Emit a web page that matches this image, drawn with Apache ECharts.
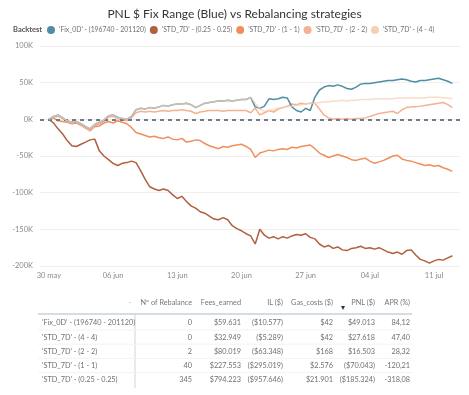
<!DOCTYPE html>
<html>
<head>
<meta charset="utf-8">
<script src="https://cdn.jsdelivr.net/npm/echarts@6/dist/echarts.min.js"></script>
<style>
html,body{margin:0;padding:0;background:#fff;}
#chart{width:469px;height:395px;}
</style>
</head>
<body>
<div id="chart"></div>
<script>
// ---------- DATA ----------
// x is measured in days since 30 May; one sample every half day
var stepDays = 0.5;

var seriesNames = [
  "'Fix_0D' - (196740 - 201120)",
  "'STD_7D' - (0.25 - 0.25)",
  "'STD_7D' - (1 - 1)",
  "'STD_7D' - (2 - 2)",
  "'STD_7D' - (4 - 4)"
];

// PNL in thousands of $
var fix0D = [0,4,6,2,-2,-4,-3,-6,-10,-13,-7,-4,-1,5,6,3,1,0,4,13,
  15,14,16,15,17,19,18,20,21,21,22,20,16,19,22,23,24,25,25,26,
  25,26,27,27,30,17,15,18,28,27,28,30,29,17,12,10,15,12,30,40,
  44,46,45,47,45,42,41,44,48,49,49,50,51,52,53,53,54,55,54,52,
  51,53,53,54,55,56,54,52,49];
var std025 = [0,-5,-13,-20,-29,-36,-37,-34,-31,-28,-27,-43,-50,-55,-60,-63,-60,-59,-57,-59,
  -70,-82,-92,-95,-97,-95,-97,-103,-108,-105,-112,-118,-121,-126,-128,-132,-136,-137,-134,-137,
  -145,-149,-152,-156,-159,-170,-150,-158,-162,-160,-163,-160,-162,-159,-157,-158,-156,-161,-163,-170,
  -174,-172,-176,-174,-178,-179,-176,-175,-173,-176,-175,-177,-175,-178,-181,-183,-181,-184,-179,-178,
  -185,-191,-193,-196,-193,-191,-192,-189,-186];
var std1 = [0,2,-2,-3,-4,-6,-5,-8,-12,-15,-10,-9,-5,-3,-5,-2,-4,-6,-11,-18,
  -20,-22,-24,-23,-25,-26,-24,-27,-28,-26,-31,-30,-28,-29,-33,-36,-38,-40,-37,-38,
  -36,-35,-34,-37,-41,-52,-46,-44,-42,-43,-41,-40,-41,-38,-39,-37,-36,-35,-40,-46,
  -49,-52,-50,-48,-50,-52,-55,-56,-54,-53,-57,-60,-58,-56,-53,-50,-49,-54,-56,-57,
  -59,-61,-63,-62,-64,-63,-66,-68,-71];
var std2 = [0,3,4,1,-3,-5,-4,-8,-12,-16,-9,-6,-3,3,4,1,-1,-2,2,9,
  11,10,11,10,11,12,11,12,12,13,12,11,8,10,11,12,12,12,11,12,
  12,12,12,12,9,15,6,9,12,10,14,16,18,21,20,22,21,22,22,14,
  6,2,0,1,0,1,0,1,1,2,4,6,8,9,10,11,8,13,16,17,
  17,18,19,20,21,22,23,20,16];
var std4 = [0,4,6,2,-2,-4,-3,-6,-10,-13,-7,-4,-1,5,6,3,1,0,4,13,
  15,14,16,15,17,19,18,20,21,21,22,20,16,19,22,23,24,25,25,26,
  25,26,27,27,30,22,14,11,12,13,15,16,17,18,19,20,21,22,22,23,
  24,24,25,25,26,25,26,26,27,27,27,28,28,28,28,28,29,29,29,29,
  29,29,29,30,30,30,29,29,28];

var xTickDays = [0,7,14,21,28,35,42];
var xTickLabels = ['30 may','06 jun','13 jun','20 jun','27 jun','04 jul','11 jul'];

// table
var tableHeaders = ['Nº of Rebalance','Fees_earned','IL ($)','Gas_costs ($)','PNL ($)','APR (%)'];
var tableRowNames = ["'Fix_0D' - (196740 - 201120)","'STD_7D' - (4 - 4)","'STD_7D' - (2 - 2)","'STD_7D' - (1 - 1)","'STD_7D' - (0.25 - 0.25)"];
var colRebalance = ['0','0','2','40','345'];
var colFees = ['$59.631','$32.949','$80.019','$227.553','$794.223'];
var colIL = ['($10.577)','($5.289)','($63.348)','($295.019)','($957.646)'];
var colGas = ['$42','$42','$168','$2.576','$21.901'];
var colPNL = ['$49.013','$27.618','$16.503','($70.043)','($185.324)'];
var colAPR = ['84,12','47,40','28,32','-120,21','-318,08'];

// ---------- BUILD ----------
var FONT = 'Lato';
function toPairs(arr){
  var out = [];
  for (var i=0;i<arr.length;i++) out.push([i*stepDays, arr[i]]);
  return out;
}

var colors = {
  fix:'#4f8ea2', s025:'#b0603c', s1:'#ee8f5c', s2:'#f4b193', s4:'#f6cfb6'
};

function lineSeries(name, arr, color, z, extra){
  var s = {
    name:name, type:'line', data:toPairs(arr), showSymbol:false, symbol:'none',
    lineStyle:{color:color, width:1.5}, itemStyle:{color:color}, z:z, animation:false
  };
  if (extra) for (var k in extra) s[k]=extra[k];
  return s;
}

var series = [
  lineSeries(seriesNames[1], std025, colors.s025, 2),
  lineSeries(seriesNames[2], std1, colors.s1, 3),
  lineSeries(seriesNames[3], std2, colors.s2, 4),
  lineSeries(seriesNames[0], fix0D, colors.fix, 5),
  lineSeries(seriesNames[4], std4, colors.s4, 6, {
    lineStyle:{color:colors.s4, width:1.5, opacity:0.75},
    markLine:{silent:true, symbol:'none', label:{show:false}, animation:false,
      lineStyle:{color:'#6d7c88', type:[4,4], width:2},
      data:[{yAxis:0}]}
  })
];

// table graphics
var colRight = [192,241,283,333,375,410];
var headerY = 303, rowY0 = 323, rowH = 14.2;
var txtColor = '#707070';
var TFS = 7.3;
var g = [];
function txt(s, x, y, align, color, size, weight){
  g.push({type:'text', x:x, y:y, silent:true,
    style:{text:s, align:align, verticalAlign:'middle', fill:color||txtColor,
      fontSize:size||TFS, fontFamily:FONT, fontWeight:weight||'normal'}});
}
txt('Backtest', 13, 30, 'left', '#555', 7.5, 'bold');
txt('-', 130, headerY, 'center', '#aaa', TFS);
for (var h=0;h<tableHeaders.length;h++) txt(tableHeaders[h], colRight[h], headerY, 'right', '#777', TFS);
txt('▾', 343, headerY+4, 'center', '#333', 8);
g.push({type:'line', silent:true, shape:{x1:38,y1:314,x2:412,y2:314}, style:{stroke:'#c7d2db', lineWidth:1.5}});
g.push({type:'line', silent:true, shape:{x1:135,y1:314,x2:135,y2:388}, style:{stroke:'#cfd6dc', lineWidth:1}});
var cols = [colRebalance,colFees,colIL,colGas,colPNL,colAPR];
for (var r=0;r<tableRowNames.length;r++){
  var y = rowY0 + r*rowH;
  txt(tableRowNames[r], 42, y, 'left', txtColor, TFS);
  for (var c=0;c<cols.length;c++) txt(cols[c][r], colRight[c], y, 'right', txtColor, TFS);
  if (r < tableRowNames.length-1)
    g.push({type:'line', silent:true, shape:{x1:38,y1:y+7,x2:412,y2:y+7}, style:{stroke:'#f3f3f3', lineWidth:1}});
}

var chart = echarts.init(document.getElementById('chart'), null, {renderer:'canvas'});
chart.setOption({
  animation:false,
  backgroundColor:'#ffffff',
  textStyle:{fontFamily:FONT},
  title:{text:'PNL $ Fix Range (Blue) vs Rebalancing strategies', left:'center', top:3,
    textStyle:{fontSize:12, fontWeight:'normal', color:'#333', fontFamily:FONT}},
  legend:{
    data:[
      {name:seriesNames[0], itemStyle:{color:colors.fix}},
      {name:seriesNames[1], itemStyle:{color:colors.s025}},
      {name:seriesNames[2], itemStyle:{color:colors.s1}},
      {name:seriesNames[3], itemStyle:{color:colors.s2}},
      {name:seriesNames[4], itemStyle:{color:colors.s4}}
    ],
    left:47, top:26, icon:'circle', itemWidth:8, itemHeight:8, itemGap:4,
    textStyle:{fontSize:6.8, color:'#707070', fontFamily:FONT, padding:[0,0,0,-1]}, padding:0
  },
  grid:{left:40, right:9, top:46, bottom:129, containLabel:false},
  xAxis:{
    type:'value',
    min:-0.97, max:44.83,
    axisLine:{show:false}, axisTick:{show:false}, splitLine:{show:false},
    axisLabel:{customValues:xTickDays, color:'#8a8a8a', fontSize:7.5, margin:6, fontFamily:FONT,
      formatter:function(v){ var i = xTickDays.indexOf(v); return i>=0 ? xTickLabels[i] : ''; }}
  },
  yAxis:{
    type:'value', min:-200, max:100, interval:50,
    axisLine:{show:false}, axisTick:{show:false},
    splitLine:{lineStyle:{color:'#efefef', width:1}},
    axisLabel:{color:'#8a8a8a', fontSize:7.5, margin:7, fontFamily:FONT,
      formatter:function(v){ return v + 'K'; }}
  },
  graphic:g,
  series:series
});
</script>
</body>
</html>
